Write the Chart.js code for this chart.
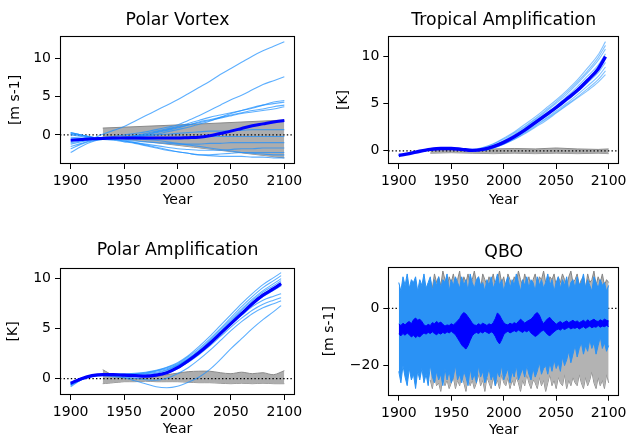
<!DOCTYPE html>
<html><head><meta charset="utf-8">
<script src="https://cdn.jsdelivr.net/npm/chart.js@4.4.1/dist/chart.umd.min.js"></script>
<style>
html,body{margin:0;padding:0;background:#fff;}
#wrap{position:relative;width:631px;height:442px;overflow:hidden;background:#fff;}
canvas{position:absolute;}
</style></head><body>
<div id="wrap">
<canvas id="c1" width="315" height="220" style="left:0px;top:0px"></canvas>
<canvas id="c2" width="316" height="220" style="left:315px;top:0px"></canvas>
<canvas id="c3" width="315" height="222" style="left:0px;top:220px"></canvas>
<canvas id="c4" width="316" height="222" style="left:315px;top:220px"></canvas>
</div>
<script>
// ---------- axis / tick data ----------
const X_MIN = 1890, X_MAX = 2110;
const xTicks = [1900, 1950, 2000, 2050, 2100];
const yTicksK = [0, 5, 10];
const yTicksQBO = [-20, 0];

// ---------- category years ----------
const years10  = [1900,1910,1920,1930,1940,1950,1960,1970,1980,1990,2000,2010,2020,2030,2040,2050,2060,2070,2080,2090,2100];
const years10b = [1900,1910,1920,1930,1940,1950,1960,1970,1980,1990,2000,2010,2020,2030,2040,2050,2060,2070,2080,2090,2097];

// ---------- Polar Vortex ----------
const pvGreyYears = [1930, 2015, 2100];
const pvGreyTop = [0.9, 1.4, 1.95];
const pvGreyBottom = [-0.2, -1.6, -3.0];
const pvMembers = [
  [-0.3,-0.4,-0.4,0.1,0.6,1.1,1.8,2.5,3.2,3.9,4.6,5.4,6.2,7.0,7.9,8.7,9.5,10.3,11.0,11.6,12.2],
  [0.0,-0.2,-0.4,-0.3,-0.2,0.0,0.2,0.4,0.7,1.0,1.3,1.9,2.5,3.2,3.9,4.6,5.2,5.9,6.6,7.1,7.6],
  [0.3,0.0,-0.3,-0.4,-0.4,-0.3,-0.1,0.2,0.5,0.8,1.1,1.5,1.9,2.3,2.6,2.9,3.2,3.5,3.9,4.3,4.5],
  [-1.0,-0.8,-0.6,-0.5,-0.4,-0.3,-0.1,0.1,0.4,0.7,1.0,1.3,1.7,2.0,2.3,2.6,2.9,3.2,3.4,3.7,3.9],
  [-1.5,-1.1,-0.7,-0.5,-0.4,-0.3,-0.2,0.0,0.3,0.6,0.9,1.3,1.6,1.9,2.2,2.5,2.8,3.0,3.2,3.4,3.7],
  [0.2,0.0,-0.3,-0.5,-0.5,-0.4,-0.3,-0.1,0.1,0.4,0.7,1.0,1.4,1.8,2.3,2.8,3.2,3.6,3.9,4.1,4.3],
  [-2.3,-1.5,-0.9,-0.6,-0.7,-0.9,-1.1,-1.4,-1.7,-2.0,-2.2,-2.4,-2.6,-2.7,-2.8,-2.8,-2.8,-2.9,-2.9,-3.0,-3.0],
  [-1.8,-1.2,-0.8,-0.6,-0.6,-0.8,-1.0,-1.3,-1.6,-1.9,-2.2,-2.4,-2.6,-2.6,-2.5,-2.4,-2.3,-2.3,-2.3,-2.3,-2.3],
  [-0.5,-0.5,-0.5,-0.5,-0.6,-0.8,-1.0,-1.2,-1.4,-1.6,-1.8,-1.9,-2.0,-2.0,-2.0,-1.9,-1.8,-1.8,-1.7,-1.7,-1.7],
  [0.3,0.0,-0.3,-0.5,-0.6,-0.7,-0.8,-0.9,-1.0,-1.1,-1.2,-1.2,-1.2,-1.1,-1.1,-1.0,-1.0,-1.0,-1.0,-1.0,-1.0],
  [-0.8,-0.6,-0.5,-0.5,-0.5,-0.5,-0.5,-0.5,-0.4,-0.4,-0.3,-0.3,-0.3,-0.2,-0.2,-0.2,-0.2,-0.2,-0.2,-0.2,-0.2],
  [0.1,-0.1,-0.3,-0.4,-0.4,-0.3,-0.2,-0.1,0.0,0.1,0.2,0.3,0.4,0.5,0.5,0.6,0.6,0.7,0.7,0.7,0.7],
  [-1.2,-0.9,-0.6,-0.5,-0.5,-0.5,-0.5,-0.6,-0.7,-0.9,-1.1,-1.3,-1.5,-1.7,-1.9,-2.1,-2.3,-2.4,-2.5,-2.6,-2.6]
];
const pvMean = [-0.7,-0.6,-0.5,-0.45,-0.4,-0.4,-0.4,-0.4,-0.4,-0.4,-0.4,-0.35,-0.3,-0.1,0.2,0.5,0.85,1.2,1.45,1.7,1.9];

// ---------- Tropical Amplification ----------
const trGreyYears = [1930,1950,1970,1990,2010,2030,2050,2070,2090,2100];
const trGreyTop = [0.15,0.2,0.1,0.2,0.25,0.2,0.3,0.2,0.15,0.2];
const trGreyBottom = [-0.25,-0.2,-0.25,-0.3,-0.25,-0.3,-0.25,-0.3,-0.25,-0.3];
const trMembers = [
  [-0.5,-0.3,-0.05,0.15,0.25,0.25,0.2,0.15,0.35,0.75,1.35,2.0,2.8,3.6,4.5,5.4,6.4,7.5,8.8,10.2,11.6],
  [-0.45,-0.3,0.0,0.2,0.25,0.25,0.15,0.1,0.3,0.7,1.25,1.9,2.6,3.4,4.3,5.2,6.2,7.3,8.5,9.9,11.2],
  [-0.5,-0.25,-0.05,0.15,0.25,0.2,0.1,0.05,0.2,0.55,1.1,1.75,2.5,3.3,4.15,5.05,6.0,7.1,8.3,9.6,10.8],
  [-0.55,-0.3,-0.05,0.15,0.25,0.25,0.15,0.05,0.15,0.5,1.0,1.6,2.35,3.15,3.95,4.8,5.75,6.8,7.95,9.1,10.3],
  [-0.5,-0.3,-0.05,0.15,0.25,0.25,0.15,0.0,0.1,0.4,0.85,1.45,2.15,2.95,3.75,4.6,5.5,6.5,7.6,8.7,9.8],
  [-0.5,-0.3,-0.05,0.1,0.2,0.2,0.1,0.0,0.1,0.4,0.85,1.45,2.1,2.85,3.65,4.45,5.3,6.25,7.25,8.3,9.4],
  [-0.5,-0.3,-0.05,0.15,0.25,0.25,0.15,0.05,0.1,0.35,0.8,1.35,2.0,2.7,3.45,4.25,5.05,5.95,6.9,7.9,8.9],
  [-0.5,-0.3,-0.05,0.15,0.25,0.25,0.2,0.05,0.05,0.3,0.7,1.25,1.9,2.6,3.35,4.1,4.9,5.7,6.6,7.55,8.5],
  [-0.5,-0.3,-0.05,0.1,0.2,0.2,0.1,0.0,0.05,0.3,0.7,1.2,1.8,2.5,3.2,4.0,4.8,5.6,6.4,7.3,8.1]
];
const trMean = [-0.5,-0.3,-0.05,0.15,0.25,0.25,0.15,0.05,0.15,0.45,0.9,1.5,2.2,3.0,3.8,4.6,5.5,6.4,7.5,8.7,10.0];

// ---------- Polar Amplification ----------
const paGreyYears = [1930,1935,1940,1945,1950,1960,1970,1980,1990,2000,2010,2020,2030,2040,2050,2060,2070,2080,2090,2100];
const paGreyTop = [0.9,0.6,0.3,0.15,0.1,0.0,0.05,0.2,0.4,0.55,0.7,0.75,0.75,0.6,0.5,0.65,0.5,0.6,0.4,0.8];
const paGreyBottom = [-0.5,-0.45,-0.4,-0.35,-0.3,-0.3,-0.25,-0.3,-0.3,-0.3,-0.35,-0.4,-0.4,-0.45,-0.5,-0.45,-0.5,-0.45,-0.5,-0.5];
const paMembers = [
  [-0.7,-0.1,0.3,0.45,0.5,0.5,0.55,0.65,0.85,1.15,1.6,2.3,3.2,4.2,5.3,6.4,7.5,8.5,9.4,10.1,10.6],
  [-0.5,0.0,0.3,0.4,0.45,0.45,0.5,0.6,0.8,1.1,1.5,2.2,3.0,3.95,5.0,6.1,7.2,8.2,9.1,9.8,10.3],
  [-0.6,0.0,0.3,0.4,0.4,0.4,0.45,0.55,0.75,1.0,1.4,2.05,2.85,3.8,4.85,5.9,6.95,7.95,8.8,9.5,10.0],
  [-0.4,0.05,0.3,0.35,0.35,0.35,0.35,0.4,0.55,0.85,1.3,1.95,2.75,3.7,4.7,5.75,6.8,7.8,8.65,9.3,9.8],
  [-0.5,0.0,0.3,0.4,0.4,0.35,0.3,0.3,0.4,0.7,1.2,1.85,2.65,3.6,4.6,5.6,6.6,7.6,8.45,9.1,9.6],
  [-0.6,0.0,0.3,0.4,0.35,0.3,0.25,0.2,0.3,0.55,1.0,1.7,2.5,3.45,4.45,5.45,6.45,7.4,8.2,8.85,9.3],
  [-0.5,0.0,0.3,0.4,0.4,0.4,0.45,0.5,0.65,0.9,1.35,1.95,2.7,3.55,4.5,5.45,6.35,7.2,7.85,8.25,8.5],
  [-0.8,-0.1,0.25,0.35,0.3,0.25,0.2,0.2,0.3,0.6,1.05,1.65,2.4,3.25,4.2,5.15,6.05,6.85,7.45,7.85,8.1],
  [-0.5,0.0,0.3,0.35,0.3,0.2,0.05,-0.1,-0.15,0.05,0.5,1.1,1.9,2.8,3.8,4.8,5.7,6.5,7.1,7.5,7.8],
  [-0.6,-0.1,0.2,0.3,0.2,0.1,-0.2,-0.5,-0.8,-0.9,-0.75,-0.35,0.15,0.9,1.9,3.0,4.0,5.0,5.9,6.7,7.3]
];
const paMean = [-0.45,0.0,0.3,0.4,0.4,0.35,0.3,0.25,0.35,0.6,1.1,1.8,2.6,3.5,4.5,5.5,6.5,7.5,8.35,9.0,9.5];

// ---------- QBO ----------
const qboYears = [
  1900,1902,1904,1906,1908,1910,1912,1914,1916,1918,
  1920,1922,1924,1926,1928,1930,1932,1934,1936,1938,
  1940,1942,1944,1946,1948,1950,1952,1954,1956,1958,
  1960,1962,1964,1966,1968,1970,1972,1974,1976,1978,
  1980,1982,1984,1986,1988,1990,1992,1994,1996,1998,
  2000,2002,2004,2006,2008,2010,2012,2014,2016,2018,
  2020,2022,2024,2026,2028,2030,2032,2034,2036,2038,
  2040,2042,2044,2046,2048,2050,2052,2054,2056,2058,
  2060,2062,2064,2066,2068,2070,2072,2074,2076,2078,
  2080,2082,2084,2086,2088,2090,2092,2094,2096,2098,
  2100];
const qboBlueTop = [
  9,6,11,8,12,7,10,9,11,6,
  10,8,12,7,9,11,6,10,8,11,
  7,10,9,12,6,10,8,11,9,7,
  11,8,10,6,12,9,7,10,11,8,
  9,6,10,8,11,7,9,12,8,10,
  6,9,11,7,10,8,12,9,6,10,
  8,11,7,10,9,6,11,8,10,7,
  9,12,8,10,6,9,11,7,10,8,
  11,6,9,10,7,11,8,9,12,7,
  10,8,6,11,9,7,10,8,9,6,
  8];
const qboBlueBottom = [
  -22,-26,-20,-24,-27,-21,-25,-23,-28,-22,
  -25,-21,-26,-23,-27,-20,-24,-26,-22,-25,
  -23,-27,-21,-25,-22,-26,-24,-20,-25,-23,
  -26,-22,-24,-27,-21,-25,-23,-26,-20,-24,
  -22,-26,-24,-21,-25,-23,-27,-22,-24,-20,
  -25,-23,-21,-26,-22,-24,-20,-25,-23,-21,
  -24,-20,-23,-25,-21,-24,-22,-19,-23,-21,
  -20,-23,-19,-22,-18,-21,-19,-22,-17,-20,
  -18,-15,-19,-16,-13,-17,-14,-12,-16,-13,
  -15,-11,-14,-12,-16,-13,-10,-14,-12,-15,
  -13];
const qboMeanTop = [
  -5.5,-6.0,-5.2,-5.8,-5.0,-4.6,-5.4,-4.0,-3.4,-4.2,
  -3.8,-4.6,-5.8,-6.2,-5.6,-6.0,-5.0,-5.4,-4.6,-5.2,
  -4.8,-5.6,-6.2,-5.8,-6.0,-5.4,-5.8,-5.2,-4.4,-3.6,
  -2.2,-1.5,-2.0,-3.0,-4.0,-5.2,-5.8,-6.0,-5.4,-5.8,
  -5.2,-5.6,-6.0,-5.4,-5.8,-5.0,-3.6,-1.6,-2.4,-3.8,
  -5.0,-5.6,-5.8,-5.2,-5.6,-5.0,-5.4,-4.6,-3.8,-4.4,
  -5.2,-4.6,-4.2,-3.8,-3.0,-2.0,-1.5,-2.4,-4.2,-5.4,
  -4.4,-3.6,-3.2,-4.2,-4.8,-5.6,-5.0,-4.6,-5.2,-4.8,
  -4.4,-5.0,-4.6,-4.2,-4.8,-4.4,-5.0,-4.6,-4.2,-4.8,
  -4.0,-4.6,-4.2,-3.8,-4.4,-4.6,-4.0,-4.4,-3.8,-4.2,
  -4.4];
const qboMeanBottom = [
  -9.0,-9.6,-8.8,-9.4,-8.6,-9.2,-10.0,-9.4,-10.2,-9.6,
  -10.0,-9.2,-8.6,-9.0,-8.4,-8.8,-8.2,-8.8,-9.2,-8.6,
  -9.0,-8.4,-8.8,-8.2,-8.6,-8.0,-8.6,-9.2,-10.4,-11.6,
  -12.8,-13.6,-14.2,-13.0,-11.2,-9.6,-8.8,-8.4,-8.8,-8.2,
  -8.6,-8.0,-8.4,-8.8,-8.2,-8.6,-9.8,-11.4,-12.4,-11.0,
  -9.2,-8.4,-8.0,-8.6,-8.2,-7.8,-8.2,-7.6,-8.0,-8.4,
  -7.8,-8.2,-7.6,-8.6,-9.2,-9.8,-9.4,-8.6,-8.0,-7.6,
  -8.4,-9.2,-9.6,-8.8,-8.2,-7.6,-7.2,-7.6,-7.0,-7.4,
  -7.0,-6.6,-7.2,-6.8,-7.0,-6.6,-7.2,-6.8,-6.4,-7.0,
  -6.6,-6.2,-6.8,-6.4,-6.6,-6.0,-6.6,-6.2,-6.4,-6.0,
  -6.4];
const qboGreyYears = [
  1930,1932,1934,1936,1938,1940,1942,1944,1946,1948,
  1950,1952,1954,1956,1958,1960,1962,1964,1966,1968,
  1970,1972,1974,1976,1978,1980,1982,1984,1986,1988,
  1990,1992,1994,1996,1998,2000,2002,2004,2006,2008,
  2010,2012,2014,2016,2018,2020,2022,2024,2026,2028,
  2030,2032,2034,2036,2038,2040,2042,2044,2046,2048,
  2050,2052,2054,2056,2058,2060,2062,2064,2066,2068,
  2070,2072,2074,2076,2078,2080,2082,2084,2086,2088,
  2090,2092,2094,2096,2098,2100];
const qboGreyTop = [
  10,7,12,9,11,8,13,10,7,11,
  9,12,8,10,13,7,11,9,12,8,
  10,13,9,11,7,12,10,8,11,9,
  12,8,10,13,9,11,7,12,10,8,
  11,9,13,10,8,12,9,11,7,10,
  12,8,11,10,13,9,7,11,10,12,
  8,11,9,12,10,7,11,13,9,10,
  12,8,10,11,7,12,9,10,13,8,
  11,9,12,8,10,9];
const qboGreyBottom = [
  -25,-28,-23,-27,-26,-29,-24,-27,-25,-28,
  -26,-24,-28,-25,-27,-23,-26,-29,-24,-27,
  -25,-28,-26,-23,-27,-25,-29,-24,-26,-28,
  -24,-27,-25,-28,-23,-26,-27,-24,-28,-25,
  -27,-24,-26,-29,-25,-27,-23,-26,-28,-25,
  -26,-28,-24,-27,-25,-29,-26,-23,-27,-25,
  -28,-24,-26,-27,-23,-28,-25,-27,-24,-26,
  -27,-23,-26,-28,-24,-27,-25,-22,-26,-28,
  -24,-27,-25,-28,-23,-26];

// ---------- styling ----------
const FONT = "'DejaVu Sans', sans-serif";
const MEMBER = 'rgba(30,144,255,0.72)';
const MEAN = '#0000ff';
const GREY_FILL = '#adadad';
const GREY_LINE = '#8a8a8a';

function pts(xs, ys) { return ys.map((y, i) => ({x: xs[i], y: y})); }
function lineDs(xs, ys, color, width, order, extra) {
  return Object.assign({data: pts(xs, ys), borderColor: color, backgroundColor: color, borderWidth: width,
    pointRadius: 0, fill: false, order: order, cubicInterpolationMode: 'monotone'}, extra || {});
}
function band(xs, top, bottom, fillColor, lineColor, order, tension) {
  return [
    {data: pts(xs, top), borderColor: lineColor, backgroundColor: fillColor, borderWidth: 1, pointRadius: 0,
     fill: '+1', order: order, tension: tension},
    {data: pts(xs, bottom), borderColor: lineColor, backgroundColor: fillColor, borderWidth: 1, pointRadius: 0,
     fill: false, order: order, tension: tension}
  ];
}
function zeroLine(order) {
  return {data: [{x: X_MIN, y: 0}, {x: X_MAX, y: 0}], borderColor: '#000', borderWidth: 1.3,
    borderDash: [1.4, 2.2], pointRadius: 0, fill: false, order: order};
}
const frame = {
  id: 'frame',
  afterDatasetsDraw(chart) {
    const a = chart.chartArea, ctx = chart.ctx;
    ctx.save();
    ctx.strokeStyle = '#000'; ctx.lineWidth = 1.1;
    ctx.strokeRect(Math.round(a.left) + 0.5, Math.round(a.top) + 0.5,
      Math.round(a.right) - Math.round(a.left) - 1, Math.round(a.bottom) - Math.round(a.top) - 1);
    ctx.restore();
  }
};
function fmt(v) { return v < 0 ? '\u2212' + Math.abs(v) : String(v); }

function makeChart(id, p) {
  const tickFont = {family: FONT, size: 14};
  const gridOpt = {display: true, drawOnChartArea: false, drawTicks: true, tickLength: 5, color: '#000', lineWidth: 1};
  return new Chart(document.getElementById(id), {
    type: 'line',
    data: {datasets: p.datasets},
    options: {
      responsive: false, animation: false, devicePixelRatio: 1,
      layout: {padding: {left: 0, right: p.padR, top: 0, bottom: 0}},
      plugins: {
        legend: {display: false}, tooltip: {enabled: false},
        title: {display: true, text: p.title, fullSize: false, color: '#000',
          font: {family: FONT, size: 17.3, weight: 'normal'}, padding: {top: p.tTop, bottom: p.tBot}}
      },
      scales: {
        x: {type: 'linear', min: X_MIN, max: X_MAX,
          afterFit: s => { s.height = p.xh; },
          afterBuildTicks: s => { s.ticks = xTicks.map(v => ({value: v})); },
          ticks: {color: '#000', font: tickFont, padding: 4, maxRotation: 0, autoSkip: false, callback: v => String(v)},
          grid: gridOpt, border: {display: false},
          title: {display: true, text: 'Year', color: '#000', font: tickFont, padding: {top: 0, bottom: p.xtPad}}},
        y: {type: 'linear', min: p.yMin, max: p.yMax,
          afterFit: s => { s.width = p.yw; },
          afterBuildTicks: s => { s.ticks = p.yTicks.map(v => ({value: v})); },
          ticks: {color: '#000', font: tickFont, padding: 4, autoSkip: false, callback: v => fmt(v)},
          grid: gridOpt, border: {display: false},
          title: {display: true, text: p.yLabel, color: '#000', font: tickFont, padding: {top: p.ytPad, bottom: 0}}}
      }
    },
    plugins: [frame]
  });
}

// Panel 1: Polar Vortex
(function () {
  const ds = [];
  ds.push(...band(pvGreyYears, pvGreyTop, pvGreyBottom, GREY_FILL, GREY_LINE, 20, 0));
  ds.push(zeroLine(15));
  pvMembers.forEach(m => ds.push(lineDs(years10, m, MEMBER, 1.1, 10)));
  ds.push(lineDs(years10, pvMean, MEAN, 3, 1));
  makeChart('c1', {title: 'Polar Vortex', yLabel: '[m s-1]', yMin: -3.8, yMax: 12.95, yTicks: yTicksK,
    datasets: ds, padR: 20, yw: 60, xh: 56, tTop: 10.6, tBot: 4.6, ytPad: 6.6, xtPad: 11.6});
})();

// Panel 2: Tropical Amplification
(function () {
  const ds = [];
  ds.push(...band(trGreyYears, trGreyTop, trGreyBottom, GREY_FILL, GREY_LINE, 20, 0));
  ds.push(zeroLine(15));
  trMembers.forEach(m => ds.push(lineDs(years10b, m, 'rgba(30,144,255,0.55)', 1.1, 10)));
  ds.push(lineDs(years10b, trMean, MEAN, 3.4, 1));
  makeChart('c2', {title: 'Tropical Amplification', yLabel: '[K]', yMin: -1.4, yMax: 12.2, yTicks: yTicksK,
    datasets: ds, padR: 8.7, yw: 73.3, xh: 56, tTop: 10.6, tBot: 4.6, ytPad: 19.6, xtPad: 11.6});
})();

// Panel 3: Polar Amplification
(function () {
  const ds = [];
  ds.push(...band(paGreyYears, paGreyTop, paGreyBottom, GREY_FILL, GREY_LINE, 20, 0.3));
  ds.push(zeroLine(15));
  paMembers.forEach(m => ds.push(lineDs(years10b, m, MEMBER, 1.1, 10)));
  ds.push(lineDs(years10b, paMean, MEAN, 3.2, 1));
  makeChart('c3', {title: 'Polar Amplification', yLabel: '[K]', yMin: -1.63, yMax: 11.1, yTicks: yTicksK,
    datasets: ds, padR: 20, yw: 60, xh: 47, tTop: 20.6, tBot: 6.3, ytPad: 4.9, xtPad: 4.3});
})();

// Panel 4: QBO
(function () {
  const ds = [];
  ds.push(zeroLine(30));
  ds.push(...band(qboGreyYears, qboGreyTop, qboGreyBottom, '#b3b3b3', '#858585', 20, 0));
  ds.push(...band(qboYears, qboBlueTop, qboBlueBottom, '#2a92f5', '#2a92f5', 10, 0));
  ds.push(...band(qboYears, qboMeanTop, qboMeanBottom, MEAN, MEAN, 1, 0));
  makeChart('c4', {title: 'QBO', yLabel: '[m s-1]', yMin: -30.5, yMax: 14.5, yTicks: yTicksQBO,
    datasets: ds, padR: 8.7, yw: 73.3, xh: 46.3, tTop: 22.0, tBot: 4.0, ytPad: 5.9, xtPad: 3.6});
})();
</script>
</body></html>
